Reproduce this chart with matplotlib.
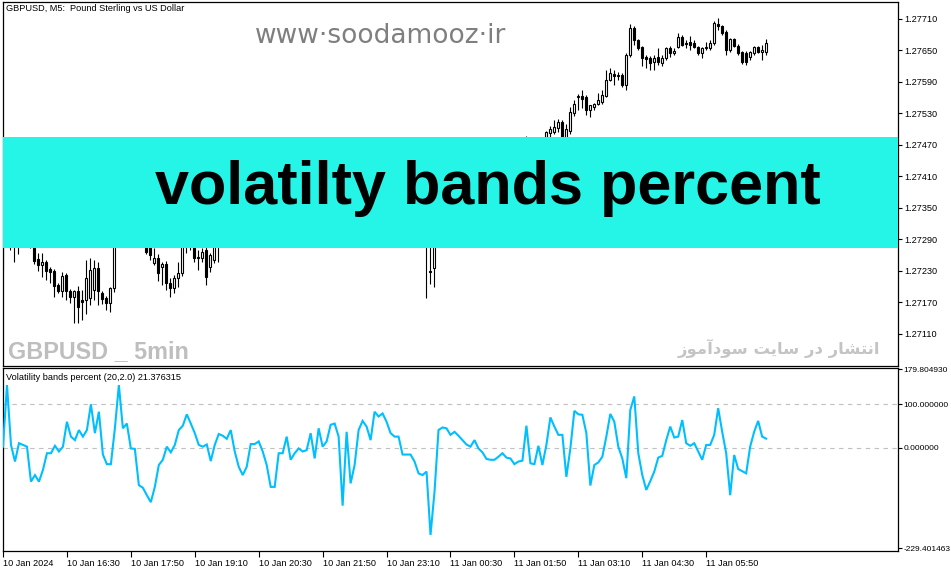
import matplotlib
matplotlib.use('Agg')
import matplotlib.pyplot as plt
from matplotlib.patches import Rectangle
from matplotlib import font_manager
import numpy as np

# ---------------- data ----------------
opens = [1.27300, 1.27280, 1.27285, 1.27290, 1.27280, 1.27285, 1.27290, 1.27300, 1.27290, 1.27253,
         1.27241, 1.27247, 1.27234, 1.27230, 1.27203, 1.27192, 1.27222, 1.27192, 1.27180, 1.27192,
         1.27175, 1.27175, 1.27179, 1.27194, 1.27236, 1.27188, 1.27179, 1.27169, 1.27198, 1.27310,
         1.27330, 1.27320, 1.27335, 1.27315, 1.27300, 1.27290, 1.27290, 1.27275, 1.27245, 1.27255,
         1.27238, 1.27243, 1.27207, 1.27198, 1.27217, 1.27226, 1.27290, 1.27280, 1.27285, 1.27255,
         1.27255, 1.27270, 1.27238, 1.27251, 1.27285, 1.27290, 1.27300, 1.27320, 1.27335, 1.27350,
         1.27340, 1.27360, 1.27375, 1.27365, 1.27380, 1.27395, 1.27410, 1.27400, 1.27420, 1.27430,
         1.27415, 1.27425, 1.27440, 1.27430, 1.27410, 1.27400, 1.27415, 1.27405, 1.27390, 1.27395,
         1.27380, 1.27370, 1.27360, 1.27350, 1.27355, 1.27345, 1.27340, 1.27335, 1.27345, 1.27340,
         1.27330, 1.27320, 1.27325, 1.27330, 1.27320, 1.27315, 1.27325, 1.27318, 1.27310, 1.27305,
         1.27312, 1.27305, 1.27300, 1.27305, 1.27298, 1.27300, 1.27295, 1.27228, 1.27236, 1.27300,
         1.27320, 1.27335, 1.27330, 1.27345, 1.27355, 1.27350, 1.27365, 1.27360, 1.27375, 1.27370,
         1.27380, 1.27390, 1.27385, 1.27395, 1.27405, 1.27400, 1.27415, 1.27425, 1.27420, 1.27435,
         1.27445, 1.27450, 1.27460, 1.27465, 1.27470, 1.27465, 1.27485, 1.27493, 1.27495, 1.27502,
         1.27514, 1.27480, 1.27497, 1.27531, 1.27561, 1.27563, 1.27561, 1.27537, 1.27542, 1.27548,
         1.27552, 1.27563, 1.27594, 1.27605, 1.27601, 1.27603, 1.27584, 1.27641, 1.27693, 1.27670,
         1.27657, 1.27638, 1.27636, 1.27628, 1.27638, 1.27626, 1.27636, 1.27655, 1.27645, 1.27657,
         1.27676, 1.27664, 1.27666, 1.27664, 1.27657, 1.27645, 1.27655, 1.27655, 1.27664, 1.27700,
         1.27697, 1.27685, 1.27651, 1.27672, 1.27659, 1.27647, 1.27645, 1.27638, 1.27645, 1.27657,
         1.27647, 1.27647]
highs = [1.27310, 1.27300, 1.27295, 1.27300, 1.27295, 1.27300, 1.27310, 1.27310, 1.27300, 1.27264,
         1.27264, 1.27251, 1.27238, 1.27234, 1.27207, 1.27228, 1.27226, 1.27196, 1.27194, 1.27201,
         1.27194, 1.27251, 1.27255, 1.27251, 1.27247, 1.27192, 1.27182, 1.27200, 1.27320, 1.27340,
         1.27350, 1.27345, 1.27350, 1.27325, 1.27310, 1.27300, 1.27300, 1.27290, 1.27274, 1.27262,
         1.27247, 1.27249, 1.27217, 1.27222, 1.27247, 1.27300, 1.27300, 1.27300, 1.27295, 1.27270,
         1.27274, 1.27280, 1.27265, 1.27290, 1.27300, 1.27310, 1.27330, 1.27345, 1.27360, 1.27360,
         1.27370, 1.27385, 1.27385, 1.27390, 1.27405, 1.27420, 1.27420, 1.27430, 1.27440, 1.27440,
         1.27435, 1.27450, 1.27450, 1.27440, 1.27420, 1.27425, 1.27425, 1.27415, 1.27405, 1.27405,
         1.27390, 1.27380, 1.27370, 1.27365, 1.27365, 1.27355, 1.27350, 1.27355, 1.27355, 1.27350,
         1.27340, 1.27335, 1.27340, 1.27340, 1.27330, 1.27335, 1.27335, 1.27328, 1.27320, 1.27322,
         1.27322, 1.27315, 1.27315, 1.27315, 1.27310, 1.27310, 1.27310, 1.27290, 1.27320, 1.27330,
         1.27345, 1.27345, 1.27355, 1.27365, 1.27365, 1.27375, 1.27375, 1.27385, 1.27385, 1.27390,
         1.27400, 1.27400, 1.27405, 1.27415, 1.27415, 1.27425, 1.27435, 1.27435, 1.27445, 1.27455,
         1.27465, 1.27487, 1.27475, 1.27480, 1.27482, 1.27480, 1.27497, 1.27506, 1.27518, 1.27520,
         1.27518, 1.27510, 1.27542, 1.27556, 1.27567, 1.27575, 1.27565, 1.27546, 1.27550, 1.27569,
         1.27575, 1.27613, 1.27617, 1.27613, 1.27609, 1.27607, 1.27645, 1.27700, 1.27697, 1.27672,
         1.27659, 1.27641, 1.27640, 1.27641, 1.27655, 1.27641, 1.27657, 1.27659, 1.27655, 1.27683,
         1.27680, 1.27670, 1.27678, 1.27670, 1.27659, 1.27657, 1.27666, 1.27670, 1.27706, 1.27712,
         1.27699, 1.27689, 1.27674, 1.27674, 1.27662, 1.27649, 1.27649, 1.27649, 1.27659, 1.27659,
         1.27660, 1.27672]
lows = [1.27228, 1.27276, 1.27270, 1.27247, 1.27262, 1.27276, 1.27280, 1.27274, 1.27243, 1.27230,
        1.27219, 1.27213, 1.27207, 1.27180, 1.27188, 1.27180, 1.27175, 1.27169, 1.27131, 1.27131,
        1.27137, 1.27148, 1.27165, 1.27175, 1.27165, 1.27167, 1.27156, 1.27152, 1.27190, 1.27300,
        1.27310, 1.27305, 1.27310, 1.27290, 1.27280, 1.27278, 1.27262, 1.27251, 1.27241, 1.27211,
        1.27203, 1.27194, 1.27180, 1.27188, 1.27200, 1.27220, 1.27264, 1.27270, 1.27247, 1.27232,
        1.27247, 1.27203, 1.27228, 1.27245, 1.27247, 1.27282, 1.27292, 1.27312, 1.27327, 1.27332,
        1.27332, 1.27352, 1.27357, 1.27357, 1.27372, 1.27387, 1.27392, 1.27392, 1.27412, 1.27407,
        1.27407, 1.27417, 1.27422, 1.27402, 1.27392, 1.27392, 1.27397, 1.27382, 1.27382, 1.27372,
        1.27362, 1.27352, 1.27342, 1.27342, 1.27337, 1.27320, 1.27327, 1.27327, 1.27332, 1.27322,
        1.27312, 1.27312, 1.27317, 1.27312, 1.27307, 1.27307, 1.27310, 1.27302, 1.27297, 1.27297,
        1.27297, 1.27292, 1.27292, 1.27290, 1.27290, 1.27287, 1.27179, 1.27205, 1.27200, 1.27292,
        1.27312, 1.27322, 1.27322, 1.27337, 1.27342, 1.27342, 1.27352, 1.27352, 1.27362, 1.27362,
        1.27372, 1.27377, 1.27377, 1.27387, 1.27392, 1.27392, 1.27407, 1.27412, 1.27412, 1.27427,
        1.27437, 1.27440, 1.27450, 1.27455, 1.27455, 1.27450, 1.27470, 1.27485, 1.27490, 1.27495,
        1.27470, 1.27470, 1.27490, 1.27525, 1.27537, 1.27540, 1.27527, 1.27523, 1.27537, 1.27545,
        1.27548, 1.27561, 1.27592, 1.27584, 1.27594, 1.27580, 1.27575, 1.27638, 1.27660, 1.27651,
        1.27620, 1.27617, 1.27613, 1.27613, 1.27622, 1.27620, 1.27632, 1.27638, 1.27641, 1.27655,
        1.27659, 1.27655, 1.27651, 1.27655, 1.27641, 1.27636, 1.27651, 1.27651, 1.27660, 1.27689,
        1.27680, 1.27641, 1.27647, 1.27657, 1.27641, 1.27624, 1.27622, 1.27632, 1.27641, 1.27645,
        1.27632, 1.27641]
closes = [1.27232, 1.27290, 1.27280, 1.27280, 1.27285, 1.27290, 1.27300, 1.27290, 1.27249, 1.27241,
          1.27247, 1.27230, 1.27228, 1.27201, 1.27192, 1.27220, 1.27192, 1.27180, 1.27192, 1.27161,
          1.27171, 1.27217, 1.27232, 1.27236, 1.27192, 1.27177, 1.27169, 1.27198, 1.27310, 1.27330,
          1.27320, 1.27335, 1.27315, 1.27300, 1.27290, 1.27285, 1.27266, 1.27260, 1.27255, 1.27226,
          1.27243, 1.27207, 1.27198, 1.27217, 1.27226, 1.27290, 1.27280, 1.27290, 1.27255, 1.27257,
          1.27266, 1.27219, 1.27260, 1.27280, 1.27290, 1.27300, 1.27320, 1.27335, 1.27350, 1.27340,
          1.27360, 1.27375, 1.27365, 1.27380, 1.27395, 1.27410, 1.27400, 1.27420, 1.27430, 1.27415,
          1.27425, 1.27440, 1.27430, 1.27410, 1.27400, 1.27415, 1.27405, 1.27390, 1.27395, 1.27380,
          1.27370, 1.27360, 1.27350, 1.27355, 1.27345, 1.27340, 1.27335, 1.27345, 1.27340, 1.27330,
          1.27320, 1.27325, 1.27330, 1.27320, 1.27315, 1.27325, 1.27318, 1.27310, 1.27305, 1.27312,
          1.27305, 1.27300, 1.27305, 1.27298, 1.27300, 1.27295, 1.27290, 1.27230, 1.27300, 1.27320,
          1.27335, 1.27330, 1.27345, 1.27355, 1.27350, 1.27365, 1.27360, 1.27375, 1.27370, 1.27380,
          1.27390, 1.27385, 1.27395, 1.27405, 1.27400, 1.27415, 1.27425, 1.27420, 1.27435, 1.27445,
          1.27450, 1.27460, 1.27465, 1.27470, 1.27465, 1.27475, 1.27495, 1.27500, 1.27504, 1.27514,
          1.27480, 1.27500, 1.27533, 1.27548, 1.27563, 1.27558, 1.27537, 1.27546, 1.27548, 1.27556,
          1.27565, 1.27594, 1.27607, 1.27601, 1.27603, 1.27584, 1.27641, 1.27693, 1.27670, 1.27655,
          1.27636, 1.27634, 1.27626, 1.27636, 1.27628, 1.27636, 1.27655, 1.27645, 1.27649, 1.27676,
          1.27660, 1.27662, 1.27660, 1.27657, 1.27645, 1.27655, 1.27657, 1.27664, 1.27702, 1.27697,
          1.27683, 1.27651, 1.27672, 1.27659, 1.27645, 1.27628, 1.27628, 1.27647, 1.27657, 1.27647,
          1.27651, 1.27664]
vbp = [3, 144, 7, -31, 11, 7, 3, -77, -62, -77,
       -50, -12, -12, 5, -8, 3, 60, 26, 18, 41,
       26, 41, 100, 34, 83, -15, -37, -37, 45, 144,
       45, 56, -1, -2, -85, -91, -108, -124, -89, -39,
       -27, 3, -10, 7, 41, 51, 77, 56, 34, 7,
       3, 8, -30, 7, 32, 28, 21, 41, -8, -43,
       -62, -43, 9, 9, 15, -8, -39, -89, -89, -12,
       -12, 26, -27, -12, -1, -8, -5, 34, -24, 45,
       3, 15, 53, 56, 26, -132, 37, -81, -39, 41,
       62, 49, 18, 83, 72, 79, 60, 34, 26, 26,
       -15, -15, -15, -31, -58, -62, -54, -199, -100, 41,
       47, 45, 30, 37, 28, 18, 8, 3, 18, -1,
       -10, -25, -27, -27, -20, -12, -22, -24, -37, -31,
       -29, 51, -35, -37, 5, -39, 7, 70, 49, 30,
       30, -66, -1, 85, 77, 76, 34, -86, -39, -33,
       -20, 26, 78, 60, 3, -24, -69, 87, 118, -12,
       -62, -96, -76, -54, -22, -18, 18, 49, 24, 26,
       64, 11, 5, 11, -8, -27, 7, 7, 30, 91,
       37, -12, -108, -16, -48, -53, -58, 3, 37, 62,
       26, 21.376315]

price_ticks = [1.27110, 1.27170, 1.27230, 1.27290, 1.27350, 1.27410,
               1.27470, 1.27530, 1.27590, 1.27650, 1.27710]
ind_ticks = [179.804930, 100.0, 0.0, -229.401463]
time_tick_bars = [0, 16, 32, 48, 64, 80, 96, 112, 128, 144, 160, 176]
time_labels = ["10 Jan 2024", "10 Jan 16:30", "10 Jan 17:50", "10 Jan 19:10",
               "10 Jan 20:30", "10 Jan 21:50", "10 Jan 23:10", "11 Jan 00:30",
               "11 Jan 01:50", "11 Jan 03:10", "11 Jan 04:30", "11 Jan 05:50"]

title_text = "GBPUSD, M5:  Pound Sterling vs US Dollar"
ind_text = "Volatility bands percent (20,2.0) 21.376315"
site_text = "www\u00b7soodamooz\u00b7ir"
banner_text = "volatilty bands percent"
symbol_text = "GBPUSD _ 5min"
persian_text = "انتشار در سایت سودآموز"

# ---------------- helpers ----------------
FORMS = {
    'ا': ('\uFE8D', '\uFE8E', None, None),
    'آ': ('\uFE81', '\uFE82', None, None),
    'ن': ('\uFEE5', '\uFEE6', '\uFEE7', '\uFEE8'),
    'ت': ('\uFE95', '\uFE96', '\uFE97', '\uFE98'),
    'ش': ('\uFEB5', '\uFEB6', '\uFEB7', '\uFEB8'),
    'ر': ('\uFEAD', '\uFEAE', None, None),
    'د': ('\uFEA9', '\uFEAA', None, None),
    'س': ('\uFEB1', '\uFEB2', '\uFEB3', '\uFEB4'),
    'ی': ('\uFBFC', '\uFBFD', '\uFEF3', '\uFEF4'),
    'م': ('\uFEE1', '\uFEE2', '\uFEE3', '\uFEE4'),
    'و': ('\uFEED', '\uFEEE', None, None),
    'ز': ('\uFEAF', '\uFEB0', None, None),
}


def shape_rtl(text):
    out = []
    n = len(text)
    for k, ch in enumerate(text):
        if ch not in FORMS:
            out.append(ch)
            continue
        iso, fin, ini, med = FORMS[ch]
        prev = text[k - 1] if k > 0 else ' '
        nxt = text[k + 1] if k < n - 1 else ' '
        jp = prev in FORMS and FORMS[prev][2] is not None
        jn = nxt in FORMS and ini is not None
        if jp and jn:
            out.append(med)
        elif jp:
            out.append(fin)
        elif jn:
            out.append(ini)
        else:
            out.append(iso)
    return ''.join(reversed(out))


W, H = 951, 572
fig = plt.figure(figsize=(W / 100, H / 100), dpi=100)
fig.patch.set_facecolor('white')


def px_rect(l, t, r, b):
    return [l / W, 1 - b / H, (r - l) / W, (b - t) / H]


SMALL = dict(family=['Liberation Sans', 'DejaVu Sans'], fontsize=6.6)
SMALL_IND = dict(family=['Liberation Sans', 'DejaVu Sans'], fontsize=6.0)

ax = fig.add_axes(px_rect(3, 2, 898, 366))
axi = fig.add_axes(px_rect(3, 368, 898, 551))

o = np.array(opens); h = np.array(highs); l = np.array(lows); c = np.array(closes)
x = np.arange(len(c))
up = c >= o

ax.vlines(x, l, h, color='black', lw=0.8, zorder=2)
bb = np.minimum(o, c)
bh = np.maximum(np.abs(c - o), 0.000006)
ax.bar(x[up], bh[up], bottom=bb[up], width=0.5, facecolor='white',
       edgecolor='black', lw=0.8, zorder=3)
ax.bar(x[~up], bh[~up], bottom=bb[~up], width=0.5, facecolor='black',
       edgecolor='black', lw=0.8, zorder=3)

xl = (0.25, 224.0)
ax.set_xlim(*xl)
ax.set_ylim(1.27049, 1.27742)
ax.set_xticks([])
ax.yaxis.tick_right()
ax.set_yticks(price_ticks)
ax.set_yticklabels([f"{v:.5f}" for v in price_ticks], **SMALL)
ax.tick_params(axis='y', length=3, width=0.8, pad=1.5, colors='black')
for s in ax.spines.values():
    s.set_linewidth(0.9)
    s.set_color('black')

# banner
ax.add_patch(Rectangle((0, 0.3242), 1.0, 0.6291 - 0.3242, transform=ax.transAxes,
                       facecolor='#24F5E6', edgecolor='none', zorder=5))
ax.text(0.5413, (366 - 204) / 364, banner_text, transform=ax.transAxes, ha='center',
        va='baseline', fontsize=44, fontweight='bold',
        family=['Liberation Sans', 'DejaVu Sans'], color='black', zorder=6)

# watermarks
ax.text(0.4218, 0.887, site_text, transform=ax.transAxes, ha='center',
        va='baseline', fontsize=19, color='#7f7f7f', family=['DejaVu Sans'], zorder=4)
ax.text(0.0034, 0.9945, title_text, transform=ax.transAxes, ha='left', va='top',
        color='black', zorder=6, **SMALL)

names = {f.name for f in font_manager.fontManager.ttflist}
if 'Liberation Sans Narrow' in names:
    sym_fam, sym_size = ['Liberation Sans Narrow', 'DejaVu Sans'], 20.5
else:
    sym_fam, sym_size = ['Liberation Sans', 'DejaVu Sans'], 16.8
ax.text((8 - 3) / 895, (366 - 358) / 364, symbol_text, transform=ax.transAxes,
        ha='left', va='baseline', fontsize=sym_size, fontweight='bold',
        family=sym_fam, color='#bebebe', zorder=4)
ax.text((880 - 3) / 895, (366 - 354) / 364, shape_rtl(persian_text),
        transform=ax.transAxes, ha='right', va='baseline', fontsize=11.8,
        fontweight='bold', family=['DejaVu Sans'], color='#c4c4c4', zorder=4)

# indicator
axi.plot(x, vbp, color='#00BFFF', lw=1.5, zorder=3, solid_joinstyle='miter')
axi.axhline(100, color='#c0c0c0', lw=0.8, ls=(0, (4, 4)), zorder=1)
axi.axhline(0, color='#c0c0c0', lw=0.8, ls=(0, (4, 4)), zorder=1)
axi.set_xlim(*xl)
axi.set_ylim(-235.7, 183.0)
axi.yaxis.tick_right()
axi.set_yticks(ind_ticks)
axi.set_yticklabels([f"{v:.6f}" for v in ind_ticks], **SMALL_IND)
axi.tick_params(axis='y', length=3, width=0.8, pad=1.0, colors='black')
axi.set_xticks(time_tick_bars)
axi.set_xticklabels(time_labels, **SMALL)
for lbl in axi.get_xticklabels():
    lbl.set_ha('left')
axi.tick_params(axis='x', length=4, width=0.8, pad=1.5, colors='black')
for s in axi.spines.values():
    s.set_linewidth(0.9)
    s.set_color('black')
axi.text(0.0034, (551 - 377) / 183, ind_text, transform=axi.transAxes,
         ha='left', va='center', color='black', **SMALL)

fig.savefig('out.png', dpi=100, facecolor='white')
